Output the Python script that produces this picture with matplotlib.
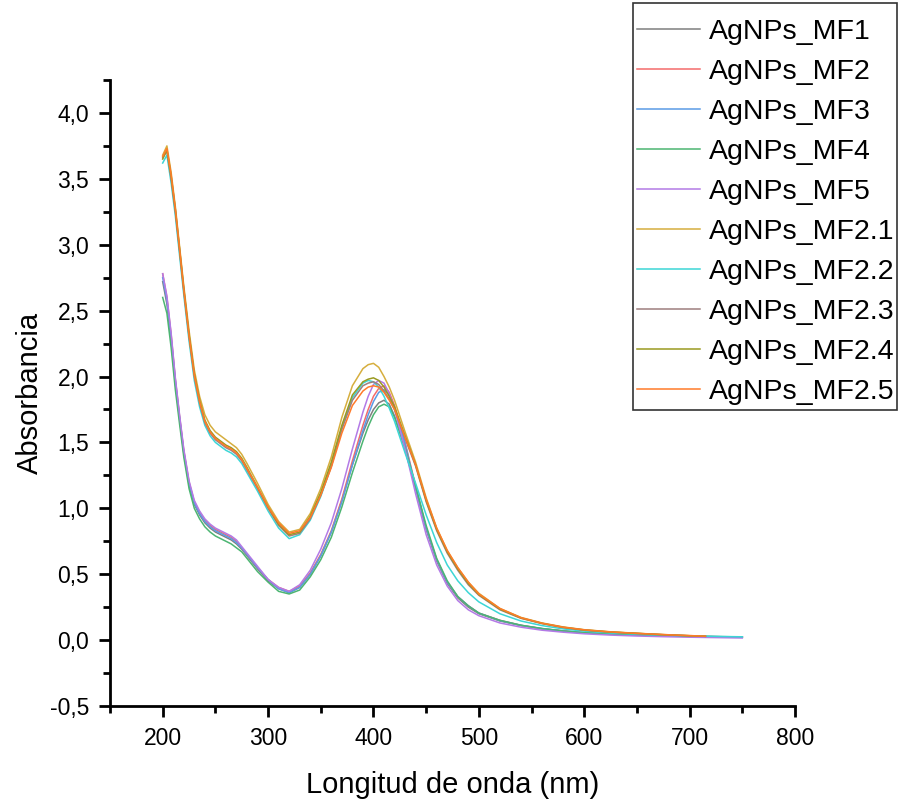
import matplotlib
matplotlib.use("Agg")
import matplotlib.pyplot as plt
from matplotlib.ticker import MultipleLocator, FuncFormatter
from matplotlib.patches import Rectangle

# wavelength grids (nm)
wl_a = [200, 204, 208, 212, 216, 220, 225, 230, 235, 240, 245, 250, 255, 260, 265, 270, 275, 280,
        290, 300, 310, 320, 330, 340, 350, 360, 370, 380, 390, 395, 400, 405, 410, 415, 420, 430,
        440, 450, 460, 470, 480, 490, 500, 520, 540, 560, 580, 600, 625, 650, 675, 700, 725, 750]
wl_b = [200, 204, 208, 212, 216, 220, 225, 230, 235, 240, 245, 250, 255, 260, 265, 270, 275, 280,
        290, 300, 310, 320, 330, 340, 350, 360, 370, 380, 390, 395, 400, 405, 410, 415, 420, 430,
        440, 450, 460, 470, 480, 490, 500, 520, 540, 560, 580, 600, 625, 650, 675, 700, 715]

MF1 = [2.72, 2.55, 2.28, 1.95, 1.68, 1.42, 1.18, 1.03, 0.95, 0.89, 0.85, 0.82, 0.80, 0.78, 0.76, 0.73, 0.69, 0.64,
       0.54, 0.45, 0.39, 0.36, 0.40, 0.50, 0.64, 0.82, 1.06, 1.33, 1.57, 1.67, 1.75, 1.80, 1.82, 1.79, 1.70, 1.45,
       1.15, 0.84, 0.60, 0.43, 0.32, 0.25, 0.20, 0.145, 0.11, 0.085, 0.068, 0.055, 0.045, 0.038, 0.032, 0.028, 0.025, 0.022]
MF2 = [2.78, 2.60, 2.32, 1.98, 1.70, 1.44, 1.20, 1.05, 0.97, 0.91, 0.87, 0.84, 0.82, 0.80, 0.78, 0.75, 0.70, 0.65,
       0.55, 0.46, 0.40, 0.37, 0.41, 0.51, 0.65, 0.83, 1.07, 1.36, 1.63, 1.75, 1.85, 1.91, 1.93, 1.88, 1.78, 1.50,
       1.17, 0.85, 0.61, 0.44, 0.33, 0.26, 0.205, 0.15, 0.112, 0.087, 0.07, 0.056, 0.046, 0.039, 0.033, 0.029, 0.026, 0.023]
MF3 = [2.75, 2.58, 2.30, 1.97, 1.69, 1.43, 1.19, 1.04, 0.96, 0.90, 0.86, 0.83, 0.81, 0.79, 0.77, 0.74, 0.70, 0.65,
       0.55, 0.46, 0.39, 0.36, 0.40, 0.50, 0.64, 0.82, 1.05, 1.33, 1.59, 1.71, 1.81, 1.88, 1.90, 1.86, 1.76, 1.49,
       1.16, 0.85, 0.61, 0.44, 0.33, 0.26, 0.205, 0.148, 0.112, 0.087, 0.069, 0.056, 0.046, 0.039, 0.033, 0.029, 0.026, 0.023]
MF4 = [2.60, 2.48, 2.22, 1.90, 1.64, 1.39, 1.15, 1.00, 0.92, 0.86, 0.82, 0.79, 0.77, 0.75, 0.73, 0.70, 0.67, 0.62,
       0.52, 0.44, 0.37, 0.35, 0.38, 0.48, 0.61, 0.78, 1.01, 1.27, 1.51, 1.62, 1.71, 1.77, 1.79, 1.77, 1.69, 1.46,
       1.17, 0.87, 0.62, 0.45, 0.33, 0.26, 0.205, 0.15, 0.113, 0.088, 0.07, 0.057, 0.047, 0.04, 0.034, 0.03, 0.027, 0.024]
MF5 = [2.78, 2.61, 2.33, 1.99, 1.71, 1.45, 1.21, 1.06, 0.98, 0.92, 0.88, 0.85, 0.83, 0.81, 0.79, 0.76, 0.71, 0.66,
       0.56, 0.46, 0.40, 0.37, 0.42, 0.53, 0.69, 0.89, 1.15, 1.45, 1.73, 1.85, 1.94, 1.97, 1.95, 1.87, 1.75, 1.45,
       1.11, 0.80, 0.57, 0.41, 0.30, 0.23, 0.185, 0.13, 0.098, 0.075, 0.06, 0.048, 0.038, 0.031, 0.026, 0.022, 0.019, 0.016]
MF2_1 = [3.68, 3.75, 3.55, 3.29, 2.99, 2.69, 2.35, 2.05, 1.85, 1.71, 1.63, 1.58, 1.55, 1.52, 1.49, 1.46, 1.41, 1.34,
         1.19, 1.03, 0.90, 0.82, 0.84, 0.96, 1.15, 1.39, 1.69, 1.93, 2.06, 2.09, 2.10, 2.07, 2.00, 1.92, 1.82, 1.58,
         1.35, 1.08, 0.85, 0.68, 0.55, 0.44, 0.355, 0.24, 0.172, 0.13, 0.10, 0.079, 0.063, 0.052, 0.042, 0.034, 0.030]
MF2_2 = [3.62, 3.68, 3.47, 3.22, 2.92, 2.62, 2.27, 1.97, 1.77, 1.63, 1.55, 1.50, 1.47, 1.44, 1.42, 1.39, 1.34, 1.27,
         1.13, 0.98, 0.85, 0.77, 0.80, 0.91, 1.09, 1.32, 1.61, 1.84, 1.95, 1.97, 1.96, 1.92, 1.85, 1.76, 1.66, 1.42,
         1.19, 0.95, 0.74, 0.57, 0.45, 0.36, 0.29, 0.20, 0.145, 0.11, 0.085, 0.068, 0.054, 0.045, 0.038, 0.032, 0.028, 0.025]
MF2_3 = [3.66, 3.71, 3.50, 3.25, 2.95, 2.65, 2.30, 2.00, 1.80, 1.65, 1.57, 1.52, 1.49, 1.46, 1.44, 1.41, 1.36, 1.29,
         1.15, 1.00, 0.87, 0.79, 0.81, 0.92, 1.10, 1.32, 1.60, 1.82, 1.93, 1.95, 1.96, 1.94, 1.89, 1.83, 1.75, 1.53,
         1.32, 1.05, 0.83, 0.66, 0.53, 0.42, 0.34, 0.23, 0.165, 0.125, 0.095, 0.075, 0.06, 0.05, 0.04, 0.032, 0.028]
MF2_4 = [3.65, 3.72, 3.52, 3.27, 2.97, 2.67, 2.32, 2.02, 1.82, 1.67, 1.59, 1.54, 1.51, 1.48, 1.46, 1.43, 1.38, 1.31,
         1.16, 1.01, 0.88, 0.80, 0.82, 0.94, 1.12, 1.35, 1.63, 1.86, 1.96, 1.98, 1.99, 1.97, 1.92, 1.85, 1.77, 1.55,
         1.33, 1.06, 0.84, 0.67, 0.54, 0.43, 0.345, 0.235, 0.168, 0.127, 0.097, 0.077, 0.061, 0.051, 0.041, 0.033, 0.029]
MF2_5 = [3.67, 3.73, 3.53, 3.27, 2.97, 2.66, 2.31, 2.01, 1.81, 1.66, 1.58, 1.53, 1.50, 1.47, 1.45, 1.42, 1.37, 1.30,
         1.16, 1.01, 0.89, 0.81, 0.83, 0.93, 1.10, 1.31, 1.57, 1.78, 1.89, 1.92, 1.93, 1.92, 1.88, 1.82, 1.75, 1.54,
         1.33, 1.07, 0.85, 0.68, 0.55, 0.44, 0.35, 0.24, 0.17, 0.128, 0.098, 0.078, 0.062, 0.051, 0.042, 0.034, 0.030]

labels = ["AgNPs_MF1", "AgNPs_MF2", "AgNPs_MF3", "AgNPs_MF4", "AgNPs_MF5",
          "AgNPs_MF2.1", "AgNPs_MF2.2", "AgNPs_MF2.3", "AgNPs_MF2.4", "AgNPs_MF2.5"]
series = [(wl_a, MF1), (wl_a, MF2), (wl_a, MF3), (wl_a, MF4), (wl_a, MF5),
          (wl_b, MF2_1), (wl_a, MF2_2), (wl_b, MF2_3), (wl_b, MF2_4), (wl_b, MF2_5)]
colors = ["#7f7f7f", "#f46b6b", "#5b9be6", "#4cb572", "#b37ae6",
          "#d6ae3e", "#3cd6d6", "#9e7f7f", "#9a9a20", "#ff7a2a"]

plt.rcParams['font.family'] = ['Liberation Sans', 'DejaVu Sans']

W, H = 899, 805
fig = plt.figure(figsize=(W/100, H/100), dpi=100)
ax = fig.add_axes([110/W, 1-706/H, (795-110)/W, (706-80)/H])

handles = []
for (x, y), c, lab in zip(series, colors, labels):
    h, = ax.plot(x, y, color=c, lw=1.1, label=lab)
    handles.append(h)

ax.set_xlim(150, 800)
ax.set_ylim(-0.5, 4.25)
ax.set_xticks([200, 300, 400, 500, 600, 700, 800])
ax.xaxis.set_minor_locator(MultipleLocator(50))
ax.yaxis.set_major_locator(MultipleLocator(0.5))
ax.yaxis.set_minor_locator(MultipleLocator(0.25))
ax.yaxis.set_major_formatter(FuncFormatter(lambda v, p: f"{v:.1f}".replace('.', ',')))

for s in ['top', 'right']:
    ax.spines[s].set_visible(False)
for s in ['left', 'bottom']:
    ax.spines[s].set_linewidth(2)
ax.tick_params(which='major', direction='out', length=8, width=2, labelsize=16.5, pad=7)
ax.tick_params(which='minor', direction='out', length=5, width=2)

ax.set_xlabel("Longitud de onda (nm)", fontsize=21, labelpad=15)
ax.set_ylabel("Absorbancia", fontsize=21, labelpad=4)

# legend frame drawn as a figure rectangle
fig.patches.append(Rectangle((633/W, 1-410/H), (897-633)/W, (410-3)/H, transform=fig.transFigure,
                             fill=True, facecolor='white', edgecolor='#333333', lw=1.2, zorder=5))
leg = fig.legend(handles=handles, loc='upper left', bbox_to_anchor=(637/W, 1-19/H),
                 bbox_transform=fig.transFigure, fontsize=20.5, frameon=False,
                 handlelength=2.2, handletextpad=0.32, labelspacing=0.49,
                 borderpad=0, borderaxespad=0)
leg.set_zorder(6)

fig.savefig("out.png", dpi=100)
